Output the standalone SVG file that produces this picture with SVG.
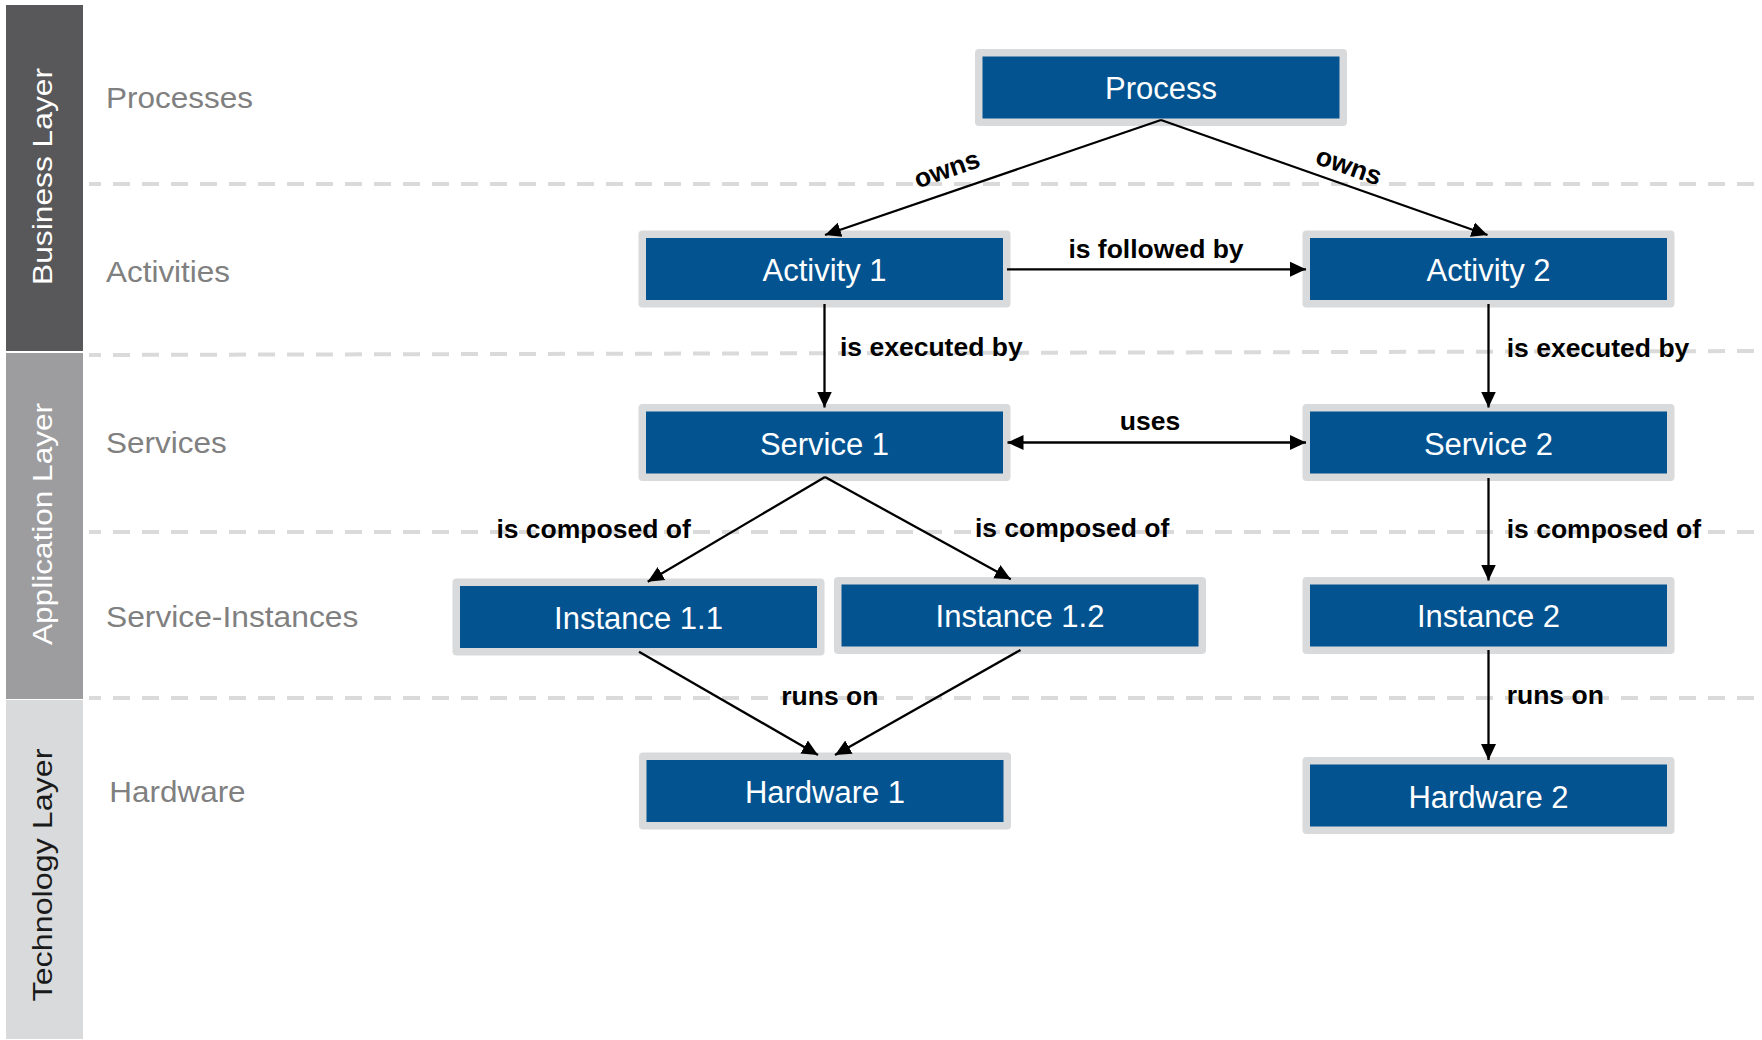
<svg xmlns="http://www.w3.org/2000/svg" width="1762" height="1040" viewBox="0 0 1762 1040">
  <defs>
    <style>
      .lane { stroke: #dadadb; stroke-width: 4; stroke-dasharray: 17 12; stroke-dashoffset: 5; fill: none; }
      .layer-title { font-family: "Liberation Sans", Arial, sans-serif; font-size: 27.5px; text-anchor: middle; }
      .row-label { font-family: "Liberation Sans", Arial, sans-serif; font-size: 29px; fill: #808080; }
      .frame { fill: #d9dadb; }
      .body { fill: #035391; }
      .name { font-family: "Liberation Sans", Arial, sans-serif; font-size: 31px; fill: #ffffff; text-anchor: middle; }
      .edge { stroke: #000000; stroke-width: 2.3; fill: none; }
      .rel { font-family: "Liberation Sans", Arial, sans-serif; font-size: 26.5px; font-weight: bold; fill: #000000; }
    </style>
    <marker id="head" viewBox="0 0 16 16" refX="16" refY="8" markerWidth="16" markerHeight="16" markerUnits="userSpaceOnUse" orient="auto-start-reverse">
      <path d="M0,0.5 L16,8 L0,15.5 Z" fill="#000000"/>
    </marker>
  </defs>

  <rect width="1762" height="1040" fill="#ffffff"/>

  <!-- layer bands on the left -->
  <g id="layers">
    <rect x="6" y="5" width="77" height="346" fill="#58585a"/>
    <rect x="6" y="353" width="77" height="346" fill="#9d9d9f"/>
    <rect x="6" y="700" width="77" height="339" fill="#d9dadb"/>
    <text class="layer-title" fill="#ffffff" transform="translate(52,176.5) rotate(-90)" textLength="217" lengthAdjust="spacingAndGlyphs">Business Layer</text>
    <text class="layer-title" fill="#ffffff" transform="translate(52,524) rotate(-90)" textLength="242" lengthAdjust="spacingAndGlyphs">Application Layer</text>
    <text class="layer-title" fill="#1a1a1a" transform="translate(52,875) rotate(-90)" textLength="253" lengthAdjust="spacingAndGlyphs">Technology Layer</text>
  </g>

  <!-- dashed lane separators -->
  <g id="lanes">
    <line class="lane" x1="89" y1="184" x2="1762" y2="184"/>
    <line class="lane" x1="89" y1="355" x2="1762" y2="351"/>
    <line class="lane" x1="89" y1="532" x2="1762" y2="532"/>
    <line class="lane" x1="89" y1="698" x2="1762" y2="698"/>
  </g>

  <!-- row captions -->
  <g id="rows">
    <text class="row-label" x="106" y="108.3" textLength="147" lengthAdjust="spacingAndGlyphs">Processes</text>
    <text class="row-label" x="106" y="281.7" textLength="124" lengthAdjust="spacingAndGlyphs">Activities</text>
    <text class="row-label" x="106" y="453.3" textLength="120.7" lengthAdjust="spacingAndGlyphs">Services</text>
    <text class="row-label" x="106" y="626.7" textLength="252.3" lengthAdjust="spacingAndGlyphs">Service-Instances</text>
    <text class="row-label" x="109.3" y="801.7" textLength="136.3" lengthAdjust="spacingAndGlyphs">Hardware</text>
  </g>

  <!-- nodes -->
  <g id="process">
    <rect class="frame" x="975" y="49" width="372" height="77" rx="4"/>
    <rect class="body" x="982.5" y="56.5" width="357" height="62"/>
    <text class="name" x="1161" y="99">Process</text>
  </g>
  <g id="activity-1">
    <rect class="frame" x="638.5" y="230.5" width="372" height="77" rx="4"/>
    <rect class="body" x="646" y="238" width="357" height="62"/>
    <text class="name" x="824.5" y="280.5">Activity 1</text>
  </g>
  <g id="activity-2">
    <rect class="frame" x="1302.5" y="230.5" width="372" height="77" rx="4"/>
    <rect class="body" x="1310" y="238" width="357" height="62"/>
    <text class="name" x="1488.5" y="280.5">Activity 2</text>
  </g>
  <g id="service-1">
    <rect class="frame" x="638.5" y="404" width="372" height="77" rx="4"/>
    <rect class="body" x="646" y="411.5" width="357" height="62"/>
    <text class="name" x="824.5" y="454.5">Service 1</text>
  </g>
  <g id="service-2">
    <rect class="frame" x="1302.5" y="404" width="372" height="77" rx="4"/>
    <rect class="body" x="1310" y="411.5" width="357" height="62"/>
    <text class="name" x="1488.5" y="454.5">Service 2</text>
  </g>
  <g id="instance-1-1">
    <rect class="frame" x="452.5" y="578.5" width="372" height="77" rx="4"/>
    <rect class="body" x="460" y="586" width="357" height="62"/>
    <text class="name" x="638.5" y="628.5">Instance 1.1</text>
  </g>
  <g id="instance-1-2">
    <rect class="frame" x="834" y="577" width="372" height="77" rx="4"/>
    <rect class="body" x="841.5" y="584.5" width="357" height="62"/>
    <text class="name" x="1020" y="626.5">Instance 1.2</text>
  </g>
  <g id="instance-2">
    <rect class="frame" x="1302.5" y="577" width="372" height="77" rx="4"/>
    <rect class="body" x="1310" y="584.5" width="357" height="62"/>
    <text class="name" x="1488.5" y="626.5">Instance 2</text>
  </g>
  <g id="hardware-1">
    <rect class="frame" x="639" y="752.5" width="372" height="77" rx="4"/>
    <rect class="body" x="646.5" y="760" width="357" height="62"/>
    <text class="name" x="825" y="802.5">Hardware 1</text>
  </g>
  <g id="hardware-2">
    <rect class="frame" x="1302.5" y="757" width="372" height="77" rx="4"/>
    <rect class="body" x="1310" y="764.5" width="357" height="62"/>
    <text class="name" x="1488.5" y="807.5">Hardware 2</text>
  </g>

  <!-- connectors, drawn over the node frames -->
  <g id="connectors">
    <line class="edge" x1="1161" y1="120" x2="825" y2="235" marker-end="url(#head)"/>
    <line class="edge" x1="1161" y1="120" x2="1487.5" y2="235" marker-end="url(#head)"/>
    <line class="edge" x1="1007" y1="269.3" x2="1306" y2="269.3" marker-end="url(#head)"/>
    <line class="edge" x1="824.5" y1="304" x2="824.5" y2="407.5" marker-end="url(#head)"/>
    <line class="edge" x1="1488.5" y1="304" x2="1488.5" y2="407.5" marker-end="url(#head)"/>
    <line class="edge" x1="1007.5" y1="442.5" x2="1306" y2="442.5" marker-start="url(#head)" marker-end="url(#head)"/>
    <line class="edge" x1="825" y1="477" x2="647.7" y2="581.7" marker-end="url(#head)"/>
    <line class="edge" x1="825" y1="477" x2="1010.8" y2="579.3" marker-end="url(#head)"/>
    <line class="edge" x1="1488.5" y1="478" x2="1488.5" y2="580.5" marker-end="url(#head)"/>
    <line class="edge" x1="639" y1="651.7" x2="818" y2="755" marker-end="url(#head)"/>
    <line class="edge" x1="1020.5" y1="650" x2="835" y2="755" marker-end="url(#head)"/>
    <line class="edge" x1="1488.5" y1="650" x2="1488.5" y2="760" marker-end="url(#head)"/>

    <text class="rel" text-anchor="middle" transform="translate(947.5,171) rotate(-18.9)" y="6.8">owns</text>
    <text class="rel" text-anchor="middle" transform="translate(1348.3,168) rotate(19.4)" y="6.8">owns</text>
    <text class="rel" x="1156" y="258.3" text-anchor="middle">is followed by</text>
    <text class="rel" x="840" y="356">is executed by</text>
    <text class="rel" x="1506.7" y="356.7">is executed by</text>
    <text class="rel" x="1150" y="430" text-anchor="middle">uses</text>
    <text class="rel" x="496.4" y="538.3">is composed of</text>
    <text class="rel" x="974.9" y="536.7">is composed of</text>
    <text class="rel" x="1506.7" y="538.3">is composed of</text>
    <text class="rel" x="829.8" y="705" text-anchor="middle">runs on</text>
    <text class="rel" x="1506.7" y="704.3">runs on</text>
  </g>
</svg>
